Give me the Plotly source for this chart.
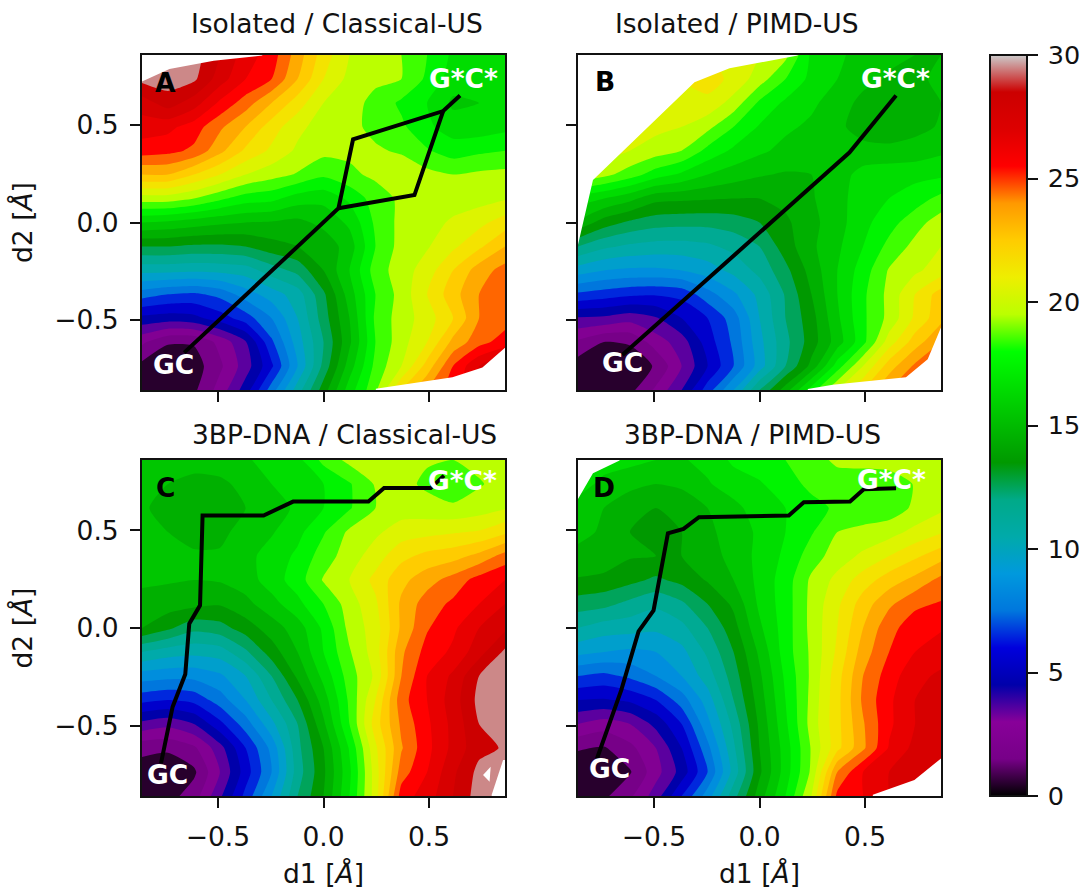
import plotly.graph_objects as go

W, H = 1082, 889
grid_x = [-0.86,-0.737,-0.614,-0.491,-0.369,-0.246,-0.123,0,0.123,0.246,0.369,0.491,0.614,0.737,0.86]
grid_y = [0.86,0.737,0.614,0.491,0.369,0.246,0.123,0,-0.123,-0.246,-0.369,-0.491,-0.614,-0.737,-0.86]

z_a = [
[29.5,29.5,29.5,28,26.5,25.5,23.5,21.5,20,19.3,19,18,16.8,16.6,16.5],
[29.3,29.5,29.2,27.5,26,25,23,21,19.7,19.2,19,17.8,16.5,16.5,16.6],
[27.5,28.5,27.5,25.8,24.5,23,21.5,20,19.4,18.7,17.8,17,15.8,16,16.3],
[26.5,26.3,25.5,24.2,23,21.5,20.3,19.5,19.2,18.8,18.2,17.2,16.5,16.4,16.7],
[25.5,25.3,24.8,23.3,21.8,20.8,19.8,19.3,19.2,19.1,18.9,18.1,17.5,17.8,18],
[23,23,22,21,20,19.4,18.9,18.2,18.8,19.2,19.5,19.3,19,19.2,19.3],
[19.5,19.5,19,18.2,17.5,17.3,16.5,16.3,17.2,18.5,19.2,19.3,19.4,19.6,19.9],
[16,15.8,15.5,15.2,15,14.9,14.7,15.3,16.2,18.2,19.3,19.5,20.2,20.7,21.5],
[13,13,12.8,12.8,13,13.6,14,14.3,15.5,18,19.4,19.9,20.8,21.8,23],
[10.3,10.3,10.2,10.3,10.5,11.5,12.3,14,16,18.5,19.5,20.5,22,23.5,24.4],
[7.5,7,6.8,7.3,8.5,9.5,10.5,12.8,15.5,18,19.4,21,22.6,24,24.6],
[4.7,4.5,4.7,5.5,6.5,8,10,12.5,15,18.2,19.5,20.5,22,24,24.5],
[2.2,1.1,1.1,2.3,3.9,6.8,9.5,12,14.8,18,19.6,21,23.3,24.6,25.5],
[0.7,0.2,0.5,1.8,3.5,5.8,9,12.3,15.5,18.3,20,22.4,25,27,28],
[0.6,0.3,0.8,2.4,4.5,7.5,10.5,13.5,16.5,18.8,22,24,25.5,27,28],
]
z_b = [
[21,21,21,21,21,21,20.7,20,19.3,16.8,16.2,15.6,15.2,15,15],
[21,21,21,21,21,21.5,20.7,19.5,18,16.7,16,15.3,14.9,14.9,15.1],
[21,21,21,21,21,20.7,19.6,17.8,16.8,16.2,15.5,14.7,14.3,14.6,15],
[21,21,20.7,20.3,20,19.3,18,16.9,16.2,15.8,15.2,14.6,14.3,14.7,15.1],
[21,20.5,20,19.5,19,17.7,16.8,16.2,15.7,15.4,15.1,15.3,15.3,15.4,15.8],
[20,19.3,18.5,17.5,16.8,16,15.5,15.1,14.9,15,15.5,16.4,16.6,16.7,16.8],
[16.5,16,15.3,14.3,14.2,14.1,14,14,14.3,14.9,15.6,16.6,17,17.5,18.3],
[14.8,13.5,12.8,12.4,12.3,12.3,12.5,13,13.8,14.7,15.6,16.7,17.6,18.6,19.5],
[12,11.2,10.8,10.6,10.6,10.8,11.3,12,13.5,14.8,15.8,17,18.3,19.3,20],
[9.5,9,8.8,8.8,9,9.5,10.3,11.3,12.7,14.4,16,17.5,19.1,19.8,20.5],
[6.8,6.5,6.2,6.1,6.3,7.6,8.8,10.3,12.1,14,16,17.8,19.3,21,22.5],
[3.9,3.8,3.4,3.9,5,6,7.5,10,12,13.6,15.8,17.8,19.3,21.2,22.7],
[1.8,1,1.1,2.5,3.5,5.5,7.2,9.7,11.7,13.5,15.5,17.7,20.5,22.5,24],
[0.5,0.2,0.4,1.1,3,5,7,9.5,12,14.3,17.5,20,22.5,24.2,25],
[0.7,0.4,0.7,2.2,4,6.5,9,12,14.5,17.5,20,22,24,25,25.5],
]
z_c = [
[16,16,15.8,15.7,15.9,16.3,16.7,18.3,19.3,19.4,19.4,19.1,19,19.3,19.5],
[15.5,15,14.4,14.7,15.4,16,16.5,17,17.9,19.1,19.3,18.8,18.3,18.9,19.4],
[15.2,14.5,14.2,14.3,15,15.5,16.2,17,17.9,19,19.5,19.4,19.2,19.5,19.9],
[15.3,15,14.5,14.8,15.3,15.9,16.7,17.9,19.2,19.8,20.5,20.7,20.9,21.1,21.8],
[15.2,15.3,15.2,15.1,15.7,16.4,17.2,18.5,19.5,20.5,21.7,22.3,22.6,23.3,24.4],
[15.1,15.1,15,15.1,15.5,16.5,17.5,19.1,20,21.3,22.7,23.6,24.4,25.4,26],
[14.8,14.5,14.3,14.1,14.7,15.6,16.7,18,19.5,20.8,23.2,24.5,25.2,26,27],
[14,13.2,12.3,12.6,13.5,14.5,15.5,17.2,19.3,20.5,23.2,24.9,25.8,27,27.8],
[11,10.5,10.3,10.5,11.8,13.5,15,17,18.9,20.5,23.8,25.4,26.2,27.6,29.2],
[8.5,8.3,8.3,8.8,10,12,14.2,16.3,18.5,20.2,24,26,27.2,29,29.5],
[6.3,6,6.3,7.5,9,11,13,15.5,18.2,21,24.6,26,27.5,29.3,29.7],
[3.7,3.3,4,5.7,7.5,9.7,12,14.8,18,21.5,24.2,25.8,27.3,29,29.5],
[1.3,1.2,1.8,3.6,6,8.3,11.7,14,17.1,20.8,23.9,25.7,27.3,28.7,29.1],
[0.5,0.2,0.8,3,5.5,8,11.5,13.8,16.8,20.5,24.5,26,27.8,29.3,29.6],
[0.8,0.6,1.5,3.8,6.3,9,12,14,17,20.5,25.5,26.5,28,29.5,29.7],
]
z_d = [
[17,16.5,16.3,16,15.9,16.3,17.2,17.5,18,18.4,19.3,19.5,19.7,19.8,20],
[16.5,15.7,15.3,15,15.2,15.9,16.5,16.9,17.5,18.3,18.3,18.1,18.1,19.1,19.7],
[15.5,15,14.3,14,14.3,15,15.7,16.5,17,17.6,18.2,18.3,18.4,19.2,19.8],
[15.2,14.9,14,13.7,14,14.8,15.4,16.2,17,17.9,19,19.3,19.6,20.3,20.9],
[14.8,14.7,14.1,14,14,14.6,15.3,16.3,17.2,18.5,19.5,20.2,21,21.8,22.6],
[13.9,13.7,13.3,12.8,13.3,14.1,15,16.3,17.5,19.2,20.3,21.5,22.5,23.3,24.3],
[12.5,12.3,11.7,11.2,11.8,13,14.2,16.2,17.5,19.3,20.8,22.5,23.8,24.8,25.1],
[11,10.5,10.4,10.2,10.7,12,13.6,15.8,17.5,19.3,21,23,24.7,25.5,25.9],
[9.3,9,8.8,9,9.7,11.2,13,15.2,17.5,19.2,21.2,23.5,25,26,26.5],
[7,6.7,7.2,8,9,10.5,12.5,14.8,17.2,19.2,21.6,24,25.5,26.7,27.2],
[5,4.9,5.2,6,7.5,9.5,12,14.5,17,19.3,21.7,24.2,25.8,27,27.6],
[3,2.5,3,4.3,6,8.7,11.3,14.2,16.8,19.4,21.7,23.9,25.8,27,27.6],
[1.1,0.9,1.7,3,5,7.7,10.8,14,16.5,19.1,21.7,23.8,26.1,27.3,28],
[0.3,0.2,0.9,2.6,4.4,7,10.4,13.8,16.5,19.2,24,26,27,27.8,28],
[0.6,0.8,1.8,3.5,6,8.5,11.6,14.5,17,20,25.3,26,27,28,28],
]

# minimum free-energy paths
path_a1_x = [-0.66,0.071,0.14,0.567,0.647]
path_a1_y = [-0.668,0.073,0.427,0.572,0.652]
path_a2_x = [0.071,0.431,0.567]
path_a2_y = [0.073,0.141,0.572]
path_b_x = [-0.65,0.426,0.647]
path_b_y = [-0.68,0.359,0.652]
path_c_x = [-0.77,-0.715,-0.655,-0.636,-0.585,-0.573,-0.284,-0.144,0.213,0.287,0.508,0.571]
path_c_y = [-0.693,-0.404,-0.237,0.022,0.116,0.576,0.576,0.647,0.647,0.717,0.717,0.78]
path_d_x = [-0.77,-0.655,-0.573,-0.502,-0.434,-0.36,-0.287,0.139,0.21,0.429,0.494,0.647]
path_d_y = [-0.668,-0.318,-0.017,0.09,0.485,0.507,0.567,0.576,0.644,0.647,0.71,0.715]

# regions of the plane that the sampling did not reach (left blank in the reference)
blank_a = [([-0.86,-0.86,-0.73,-0.52,-0.29,-0.29],[0.87,0.724,0.788,0.83,0.857,0.87]),
           ([0.248,0.611,0.753,0.87,0.87,0.248],[-0.853,-0.795,-0.744,-0.633,-0.87,-0.87])]
blank_b = [([-0.87,-0.86,-0.789,-0.308,-0.142,0.181,0.181,-0.87],[-0.114,-0.114,0.218,0.72,0.792,0.857,0.87,0.87]),
           ([0.229,0.347,0.694,0.797,0.87,0.87,0.229],[-0.855,-0.833,-0.795,-0.702,-0.514,-0.87,-0.87])]
blank_c = [([0.851,0.797,0.797,0.87,0.87],[-0.676,-0.853,-0.87,-0.87,-0.676]),
           ([0.792,0.756,0.787],[-0.71,-0.753,-0.787])]
blank_d = [([-0.87,-0.86,-0.789,-0.663,-0.663,-0.87],[0.66,0.66,0.792,0.857,0.87,0.87]),
           ([0.537,0.734,0.87,0.87,0.537],[-0.853,-0.778,-0.659,-0.87,-0.87])]

panels = ["A","B","C","D"]
titles = ["Isolated / Classical-US","Isolated / PIMD-US","3BP-DNA / Classical-US","3BP-DNA / PIMD-US"]
title_px_x = [337,737,344.5,752]
title_px_y = [24,24,434,434]
gc_x = [-0.71,-0.65,-0.74,-0.71]
gc_y = [-0.73,-0.72,-0.75,-0.72]
gcs_x = [0.665,0.645,0.66,0.625]
gcs_y = [0.74,0.74,0.755,0.76]
letter_x = [-0.75,-0.73,-0.75,-0.735]
letter_y = [0.72,0.725,0.72,0.72]
colorbar_limits = [0,30]

colorscale_stops = [
"rgb(0,0,0)","rgb(119,0,136)","rgb(136,0,153)","rgb(0,0,170)","rgb(0,0,221)","rgb(0,119,221)","rgb(0,153,221)",
"rgb(0,170,170)","rgb(0,170,136)","rgb(0,153,0)","rgb(0,187,0)","rgb(0,221,0)","rgb(0,255,0)","rgb(187,255,0)",
"rgb(238,238,0)","rgb(255,204,0)","rgb(255,153,0)","rgb(255,0,0)","rgb(221,0,0)","rgb(204,0,0)","rgb(204,204,204)"]
colorscale = [[i/20, c] for i, c in enumerate(colorscale_stops)]

FONT = "DejaVu Sans"
FS = 26.5
TXT = "#111111"
PX = [(142,505,55,390),(578,941,55,390),(142,505,460,796),(578,941,460,796)]
grids = [z_a,z_b,z_c,z_d]
blanks = [blank_a,blank_b,blank_c,blank_d]
paths = [[(path_a1_x,path_a1_y),(path_a2_x,path_a2_y)],[(path_b_x,path_b_y)],[(path_c_x,path_c_y)],[(path_d_x,path_d_y)]]

fig = go.Figure()
annots = []
for i, (x0,x1,y0,y1) in enumerate(PX):
    s = "" if i == 0 else str(i+1)
    xa, ya = "x"+s, "y"+s
    fig.add_trace(go.Contour(x=grid_x, y=grid_y, z=grids[i], xaxis=xa, yaxis=ya, zmin=0, zmax=30,
        colorscale=colorscale, autocontour=False, contours=dict(start=0,end=30,size=1,coloring="fill",showlines=False),
        line=dict(width=0, smoothing=0.6), showscale=False, name=titles[i]))
    for bx, by in blanks[i]:
        fig.add_trace(go.Scatter(x=bx, y=by, xaxis=xa, yaxis=ya, mode="lines", fill="toself", fillcolor="white",
                                 line=dict(width=0, color="white"), hoverinfo="skip", showlegend=False))
    for px_, py_ in paths[i]:
        fig.add_trace(go.Scatter(x=px_, y=py_, xaxis=xa, yaxis=ya, mode="lines",
                                 line=dict(color="black", width=4), showlegend=False))
    ax = dict(range=[-0.86,0.86], tickvals=[-0.5,0,0.5], tickformat=".1f", ticks="outside", ticklen=10, tickwidth=1.8,
              tickcolor="#111", showline=True, linecolor="#111", linewidth=2, mirror=True, showgrid=False, zeroline=False,
              ticklabelstandoff=6, tickfont=dict(family=FONT,size=FS,color=TXT))
    xk = dict(ax, domain=[x0/W,x1/W], anchor=ya, showticklabels=(i>=2))
    yk = dict(ax, domain=[(H-y1)/H,(H-y0)/H], anchor=xa, showticklabels=(i%2==0))
    if i >= 2:
        xk["title"] = dict(text="d1 [<i>Å</i>]", font=dict(family=FONT,size=FS,color=TXT), standoff=14)
    if i % 2 == 0:
        yk["title"] = dict(text="d2 [<i>Å</i>]", font=dict(family=FONT,size=FS,color=TXT), standoff=14)
    fig.update_layout({"xaxis"+s: xk, "yaxis"+s: yk})
    annots.append(dict(text=titles[i], xref="paper", yref="paper", x=title_px_x[i]/W, y=(H-title_px_y[i])/H,
                       showarrow=False, xanchor="center", yanchor="middle", font=dict(family=FONT,size=FS,color=TXT)))
    annots.append(dict(text="<b>%s</b>"%panels[i], xref=xa, yref=ya, x=letter_x[i], y=letter_y[i], showarrow=False,
                       font=dict(family=FONT,size=FS,color="black")))
    annots.append(dict(text="<b>GC</b>", xref=xa, yref=ya, x=gc_x[i], y=gc_y[i], showarrow=False,
                       font=dict(family=FONT,size=FS,color="white")))
    annots.append(dict(text="<b>G*C*</b>", xref=xa, yref=ya, x=gcs_x[i], y=gcs_y[i], showarrow=False,
                       font=dict(family=FONT,size=FS,color="white")))

# colour bar carried by an off-plot marker trace so the scale is drawn as a continuous ramp
fig.add_trace(go.Scatter(x=[None,None], y=[None,None], mode="markers", hoverinfo="skip", showlegend=False,
    marker=dict(color=colorbar_limits, cmin=colorbar_limits[0], cmax=colorbar_limits[1], colorscale=colorscale, size=1, showscale=True,
        colorbar=dict(x=990/W, xanchor="left", y=(H-796)/H, yanchor="bottom", len=741/H, lenmode="fraction",
                      thickness=37, thicknessmode="pixels", xpad=0, ypad=0, outlinewidth=2, outlinecolor="#111",
                      tick0=0, dtick=5, ticks="outside", ticklen=10, tickwidth=1.8, tickcolor="#111", tickprefix="\u2009",
                      tickfont=dict(family=FONT,size=25.5,color=TXT)))))

fig.update_layout(width=W, height=H, margin=dict(l=0,r=0,t=0,b=0,autoexpand=False), paper_bgcolor="white", plot_bgcolor="white",
                  showlegend=False, annotations=annots, font=dict(family=FONT))
fig.write_html("out.html", config={"displayModeBar":False}, post_script="document.body.style.margin='0';document.documentElement.style.overflow='hidden';")
